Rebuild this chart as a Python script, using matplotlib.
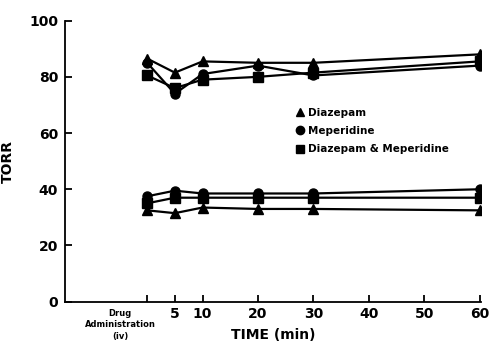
import matplotlib.pyplot as plt

# time after drug administration (min)
times = [0, 5, 10, 20, 30, 60]
xtick_pos = [0, 5, 10, 20, 30, 40, 50, 60]
xtick_labels = ["", "5", "10", "20", "30", "40", "50", "60"]
yticks = [0, 20, 40, 60, 80, 100]

# upper group (~80-90 torr)
diaz_upper = [86.5, 81.5, 85.5, 85, 85, 88]
mep_upper = [85, 74, 81, 84, 80.5, 84]
combo_upper = [80.5, 76, 79, 80, 81.5, 85.5]

# lower group (~30-40 torr)
diaz_lower = [32.5, 31.5, 33.5, 33, 33, 32.5]
mep_lower = [37.5, 39.5, 38.5, 38.5, 38.5, 40]
combo_lower = [35, 37, 37, 37, 37, 37]

labels = ["Diazepam", "Meperidine", "Diazepam & Meperidine"]
markers = ["^", "o", "s"]

plt.rcParams["font.family"] = "DejaVu Sans"
plt.rcParams["font.weight"] = "bold"

fig = plt.figure(figsize=(4.9, 3.44), dpi=100)
ax = fig.add_axes([0.133, 0.123, 0.849, 0.817])

uppers = [diaz_upper, mep_upper, combo_upper]
lowers = [diaz_lower, mep_lower, combo_lower]
handles = []
for up, lo, m, lab in zip(uppers, lowers, markers, labels):
    ax.plot(times, up, color="black", lw=1.6, marker=m, ms=6.5)
    ax.plot(times, lo, color="black", lw=1.6, marker=m, ms=6.5)
    handles.append(plt.Line2D([], [], ls="none", marker=m, color="black",
                              ms=6))

ax.set_xlim(-14.8, 60.3)
ax.set_ylim(0, 100)
ax.spines["top"].set_visible(False)
ax.spines["right"].set_visible(False)
ax.spines["left"].set_linewidth(1.3)
ax.spines["bottom"].set_linewidth(1.3)

ax.set_xticks(xtick_pos, xtick_labels)
ax.set_yticks(yticks)
ax.tick_params(axis="x", direction="in", length=5, width=1.3, pad=4,
               labelsize=10)
ax.tick_params(axis="y", direction="in", length=5, width=1.3, pad=5,
               labelsize=10)

ax.text(-4.9, -0.025, "Drug\nAdministration\n(iv)", transform=ax.get_xaxis_transform(),
        ha="center", va="top", fontsize=6, fontweight="bold", linespacing=1.35)

ax.set_xlabel("TIME (min)", fontsize=10, fontweight="bold", labelpad=5)
ax.set_ylabel("TORR", fontsize=10, fontweight="bold", labelpad=10)

ax.legend(handles, labels, loc="upper left", bbox_to_anchor=(0.555, 0.69),
          frameon=False, fontsize=7.5, handlelength=0.8, handletextpad=0.3,
          labelspacing=0.8, borderpad=0, borderaxespad=0)

fig.savefig("out.png", dpi=100)
